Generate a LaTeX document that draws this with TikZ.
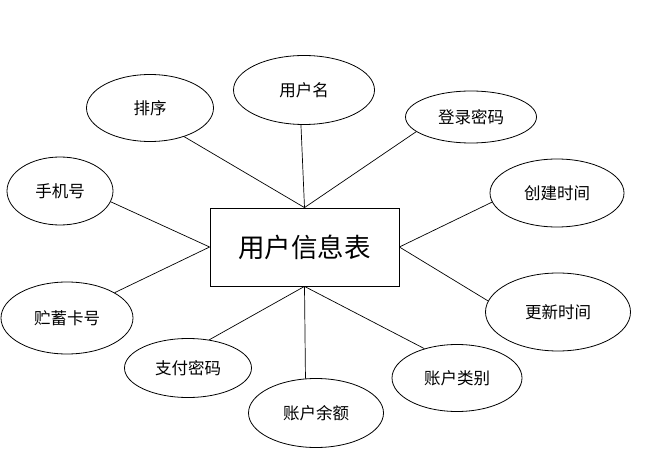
\documentclass[tikz,border=0pt]{standalone}
\usepackage{fontspec}
\newfontfamily\cjk{Noto Sans CJK SC}
\usetikzlibrary{shapes.geometric}
\tikzset{
  attr/.style={draw, ellipse, line width=0.8pt, inner sep=0pt, font=\cjk\fontsize{16.5}{18}\selectfont},
  entity/.style={draw, rectangle, line width=0.8pt, inner sep=0pt, minimum width=189pt, minimum height=78pt, font=\cjk\fontsize{26.5}{30}\selectfont},
  link/.style={line width=0.7pt}
}
\begin{document}
\begin{tikzpicture}[x=1pt,y=-1pt]
\useasboundingbox (0,0) rectangle (647,470);
\node[entity] (E) at (304.5,247) {用户信息表};
\node[attr, minimum width=127pt, minimum height=67pt] (a1) at (150,108) {排序};
\node[attr, minimum width=141pt, minimum height=69pt] (a2) at (304,90) {用户名};
\node[attr, minimum width=131pt, minimum height=52pt] (a3) at (471,117) {登录密码};
\node[attr, minimum width=106pt, minimum height=68pt] (a4) at (60,191) {手机号};
\node[attr, minimum width=134pt, minimum height=68pt] (a5) at (557,193) {创建时间};
\node[attr, minimum width=132pt, minimum height=72pt] (a6) at (67,318) {贮蓄卡号};
\node[attr, minimum width=145pt, minimum height=78pt] (a7) at (558,312) {更新时间};
\node[attr, minimum width=127pt, minimum height=59pt] (a8) at (188,368) {支付密码};
\node[attr, minimum width=135pt, minimum height=69pt] (a9) at (316,413) {账户余额};
\node[attr, minimum width=130pt, minimum height=67pt] (a10) at (457,378) {账户类别};
\draw[link] (E.north) -- (a1.-40);
\draw[link] (E.north) -- (a2.-95);
\draw[link] (E.north) -- (a3.195);
\draw[link] (E.west) -- (a4.-12);
\draw[link] (E.west) -- (a6.28);
\draw[link] (E.east) -- (a5.188);
\draw[link] (E.east) -- (a7.171);
\draw[link] (E.south) -- (a8.53);
\draw[link] (E.south) -- (a9.107);
\draw[link] (E.south) -- (a10.138);
\end{tikzpicture}
\end{document}
